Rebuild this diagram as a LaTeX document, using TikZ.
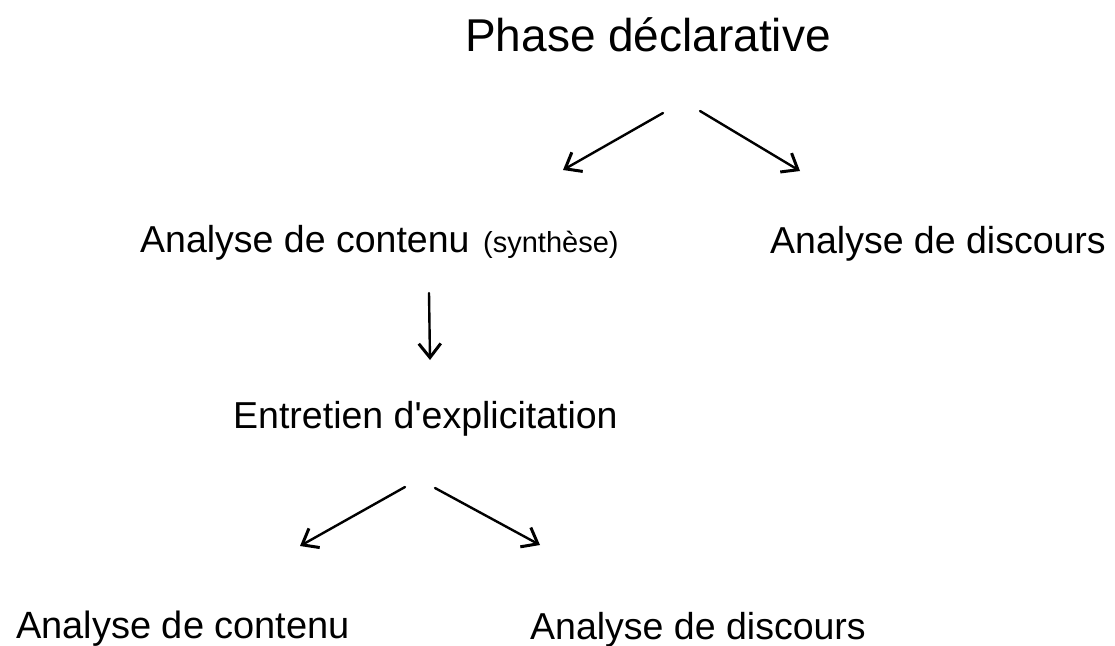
\documentclass[tikz,border=0pt]{standalone}
\usepackage{fontspec}
\setmainfont{Liberation Sans}
\usetikzlibrary{arrows.meta}
\tikzset{
  etiq/.style={anchor=base west, inner sep=0pt, font=\fontsize{37.5}{45}\selectfont},
  fleche/.style={line width=2.4pt, line cap=round, -{Straight Barb[length=14pt,width=22pt,line width=3pt]}}
}
\begin{document}
\begin{tikzpicture}[x=1pt, y=-1pt, line join=round]
	\useasboundingbox (0,0) rectangle (1115,645);
	\node[etiq, font=\fontsize{46}{54}\selectfont] (phase) at (465,51) {Phase déclarative};
	\node[etiq] (contenu) at (140,252) {Analyse de contenu};
	\node[etiq, font=\fontsize{29}{34}\selectfont] (synth) at (483,252) {(synthèse)};
	\node[etiq] (discours) at (770,253) {Analyse de discours};
	\node[etiq] (entretien) at (233,428) {Entretien d\textquotesingle explicitation};
	\node[etiq, font=\fontsize{38}{45}\selectfont] (contenub) at (16,638) {Analyse de contenu};
	\node[etiq] (discoursb) at (530,639) {Analyse de discours};
	% bouts des fleches
	\coordinate (a1) at (663,113); \coordinate (a2) at (563,170);
	\coordinate (b1) at (700,111); \coordinate (b2) at (800,171);
	\coordinate (c1) at (429,293); \coordinate (c2) at (430,360);
	\coordinate (d1) at (405,487); \coordinate (d2) at (300,546);
	\coordinate (e1) at (435,488); \coordinate (e2) at (540,545);
	\draw[fleche] (a1)--(a2);
	\draw[fleche] (b1)--(b2);
	\draw[fleche] (c1)--(c2);
	\draw[fleche] (d1)--(d2);
	\draw[fleche] (e1)--(e2);
\end{tikzpicture}
\end{document}
